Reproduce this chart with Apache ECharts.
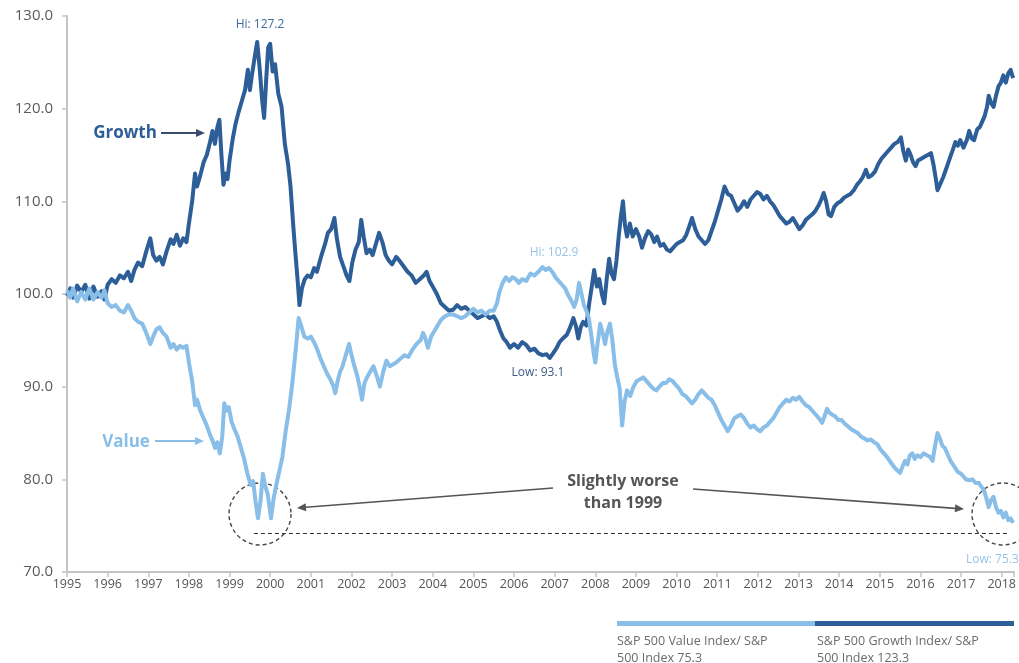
<!DOCTYPE html>
<html><head><meta charset="utf-8">
<script src="https://cdn.jsdelivr.net/npm/echarts@6/dist/echarts.min.js"></script>
<style>html,body{margin:0;padding:0;background:#fff}#c{width:1019px;height:663px}</style>
</head><body><div id="c"></div>
<script>
const yTicks = [70, 80, 90, 100, 110, 120, 130];
const growthX = [1995.00,1995.08,1995.15,1995.25,1995.35,1995.45,1995.55,1995.65,1995.75,1995.85,1995.92,1996.00,1996.10,1996.20,1996.30,1996.40,1996.50,1996.58,1996.66,1996.75,1996.85,1996.95,1997.05,1997.12,1997.20,1997.28,1997.36,1997.45,1997.55,1997.62,1997.70,1997.78,1997.86,1997.94,1998.00,1998.08,1998.15,1998.20,1998.28,1998.36,1998.44,1998.52,1998.58,1998.64,1998.70,1998.75,1998.80,1998.85,1998.90,1998.95,1999.00,1999.08,1999.15,1999.22,1999.30,1999.38,1999.45,1999.50,1999.55,1999.62,1999.68,1999.74,1999.80,1999.85,1999.90,1999.95,2000.00,2000.06,2000.12,2000.20,2000.28,2000.36,2000.44,2000.50,2000.56,2000.62,2000.68,2000.72,2000.78,2000.85,2000.92,2001.00,2001.08,2001.15,2001.25,2001.35,2001.42,2001.50,2001.58,2001.64,2001.72,2001.80,2001.88,2001.95,2002.02,2002.10,2002.18,2002.24,2002.30,2002.37,2002.45,2002.52,2002.60,2002.68,2002.76,2002.84,2002.92,2003.00,2003.10,2003.18,2003.28,2003.38,2003.48,2003.58,2003.68,2003.78,2003.85,2003.92,2004.00,2004.10,2004.20,2004.30,2004.40,2004.50,2004.60,2004.70,2004.80,2004.90,2005.00,2005.10,2005.20,2005.30,2005.40,2005.50,2005.58,2005.66,2005.74,2005.82,2005.90,2006.00,2006.10,2006.20,2006.30,2006.40,2006.50,2006.60,2006.70,2006.80,2006.88,2006.96,2007.05,2007.12,2007.20,2007.30,2007.38,2007.46,2007.52,2007.58,2007.64,2007.70,2007.78,2007.85,2007.92,2007.97,2008.04,2008.10,2008.16,2008.22,2008.28,2008.34,2008.40,2008.46,2008.52,2008.58,2008.63,2008.68,2008.73,2008.78,2008.85,2008.92,2009.00,2009.08,2009.15,2009.22,2009.30,2009.38,2009.45,2009.52,2009.60,2009.68,2009.76,2009.84,2009.92,2010.00,2010.08,2010.16,2010.24,2010.32,2010.38,2010.46,2010.54,2010.62,2010.70,2010.78,2010.86,2010.94,2011.02,2011.10,2011.18,2011.26,2011.34,2011.42,2011.50,2011.58,2011.66,2011.74,2011.82,2011.90,2011.98,2012.06,2012.14,2012.22,2012.30,2012.38,2012.46,2012.54,2012.62,2012.70,2012.78,2012.86,2012.94,2013.02,2013.10,2013.18,2013.26,2013.34,2013.42,2013.50,2013.56,2013.62,2013.68,2013.74,2013.80,2013.88,2013.96,2014.04,2014.12,2014.20,2014.28,2014.36,2014.44,2014.52,2014.58,2014.66,2014.72,2014.80,2014.88,2014.96,2015.04,2015.12,2015.20,2015.28,2015.36,2015.44,2015.52,2015.58,2015.64,2015.70,2015.76,2015.82,2015.88,2015.94,2016.02,2016.10,2016.18,2016.26,2016.32,2016.38,2016.42,2016.48,2016.56,2016.64,2016.72,2016.80,2016.86,2016.92,2016.98,2017.06,2017.14,2017.20,2017.26,2017.32,2017.40,2017.46,2017.52,2017.58,2017.64,2017.68,2017.74,2017.80,2017.86,2017.92,2017.98,2018.04,2018.10,2018.16,2018.22,2018.28];
const growthY = [99.8,100.6,99.6,100.9,100.2,101.0,99.5,100.8,99.7,100.3,99.4,101.0,101.6,101.2,102.0,101.7,102.4,101.4,102.6,103.4,103.0,104.6,106.0,104.2,103.6,104.0,103.2,104.6,105.9,105.4,106.4,105.2,106.0,105.6,107.6,110.0,113.0,111.6,112.8,114.2,115.0,116.4,117.6,116.2,118.0,118.8,115.0,111.8,113.0,112.4,114.4,116.8,118.4,119.6,120.8,122.0,124.2,122.0,123.6,125.6,127.2,124.4,121.0,119.0,123.0,126.6,127.0,124.0,124.8,121.6,120.2,116.2,114.0,111.6,107.8,104.4,101.2,98.8,100.6,101.6,102.0,101.8,102.8,102.4,104.0,105.4,106.6,107.0,108.2,106.0,104.0,103.0,102.0,101.4,103.4,104.8,105.6,108.0,106.2,104.4,104.8,104.2,105.4,106.6,105.6,104.2,103.6,103.2,104.0,103.6,103.0,102.4,102.0,101.2,101.6,102.0,102.4,101.4,100.8,100.0,99.0,98.6,98.2,98.3,98.8,98.4,98.6,98.2,97.8,97.4,97.6,97.8,97.4,97.6,97.0,96.0,95.2,94.8,94.2,94.6,94.2,94.8,94.5,93.9,94.1,93.6,93.4,93.5,93.1,93.6,94.2,94.8,95.2,95.6,96.4,97.4,96.6,95.2,96.4,97.0,96.6,99.0,101.0,102.6,100.8,101.6,100.0,99.0,101.6,103.8,102.2,101.6,103.6,106.4,108.4,110.0,107.4,106.2,107.6,106.2,107.0,106.2,105.0,106.0,106.8,106.4,105.6,106.2,105.2,105.4,104.8,104.6,105.0,105.4,105.6,105.8,106.4,107.4,108.2,107.0,106.2,105.8,105.4,105.8,106.8,107.8,109.0,110.2,111.6,110.8,110.6,109.8,109.0,109.4,110.0,109.4,110.2,110.6,111.0,110.8,110.2,110.6,110.0,109.6,109.0,108.4,108.0,107.6,107.8,108.2,107.6,107.0,107.4,108.0,108.3,108.6,109.0,109.6,110.2,110.9,110.0,108.6,108.4,109.4,109.8,110.0,110.4,110.6,110.8,111.2,111.8,112.2,112.6,113.4,112.6,112.8,113.2,114.0,114.6,115.0,115.4,115.8,116.2,116.4,116.9,115.4,114.4,115.6,115.0,114.2,113.8,114.4,114.6,114.8,115.0,115.2,114.0,112.4,111.2,111.8,112.6,113.6,114.6,115.6,116.4,116.0,116.6,115.8,116.6,117.6,116.8,116.6,117.8,118.0,118.6,119.2,120.2,121.4,120.6,120.2,121.4,122.4,122.8,123.6,122.8,123.8,124.2,123.3];
const valueX = [1995.00,1995.08,1995.15,1995.25,1995.35,1995.45,1995.55,1995.65,1995.75,1995.85,1995.92,1996.00,1996.10,1996.20,1996.30,1996.40,1996.50,1996.58,1996.66,1996.75,1996.85,1996.95,1997.05,1997.12,1997.20,1997.28,1997.36,1997.45,1997.55,1997.62,1997.70,1997.78,1997.86,1997.94,1998.00,1998.08,1998.15,1998.20,1998.28,1998.36,1998.44,1998.52,1998.58,1998.64,1998.70,1998.76,1998.82,1998.87,1998.92,1998.98,1999.05,1999.12,1999.20,1999.28,1999.36,1999.44,1999.52,1999.58,1999.64,1999.70,1999.76,1999.82,1999.88,1999.94,2000.02,2000.08,2000.14,2000.22,2000.30,2000.38,2000.46,2000.54,2000.62,2000.70,2000.76,2000.84,2000.92,2001.00,2001.08,2001.16,2001.24,2001.32,2001.40,2001.48,2001.56,2001.60,2001.66,2001.72,2001.78,2001.86,2001.94,2001.98,2002.06,2002.14,2002.20,2002.26,2002.32,2002.38,2002.46,2002.54,2002.62,2002.70,2002.78,2002.86,2002.94,2003.02,2003.10,2003.20,2003.30,2003.40,2003.50,2003.60,2003.70,2003.76,2003.82,2003.88,2003.96,2004.04,2004.12,2004.20,2004.30,2004.40,2004.50,2004.60,2004.70,2004.80,2004.90,2005.00,2005.10,2005.20,2005.30,2005.40,2005.50,2005.58,2005.64,2005.72,2005.80,2005.88,2005.96,2006.04,2006.12,2006.20,2006.30,2006.40,2006.50,2006.60,2006.70,2006.78,2006.86,2006.94,2007.02,2007.10,2007.18,2007.26,2007.34,2007.42,2007.48,2007.54,2007.60,2007.66,2007.72,2007.78,2007.84,2007.90,2007.96,2008.00,2008.06,2008.12,2008.18,2008.24,2008.30,2008.36,2008.42,2008.48,2008.54,2008.60,2008.66,2008.72,2008.78,2008.86,2008.94,2009.02,2009.10,2009.18,2009.26,2009.34,2009.42,2009.50,2009.58,2009.66,2009.74,2009.82,2009.90,2009.98,2010.06,2010.14,2010.22,2010.30,2010.38,2010.46,2010.54,2010.62,2010.70,2010.78,2010.86,2010.94,2011.02,2011.10,2011.18,2011.26,2011.34,2011.42,2011.50,2011.58,2011.66,2011.74,2011.82,2011.90,2011.98,2012.06,2012.14,2012.22,2012.30,2012.38,2012.46,2012.54,2012.62,2012.70,2012.78,2012.86,2012.94,2013.02,2013.10,2013.18,2013.26,2013.34,2013.42,2013.50,2013.58,2013.64,2013.70,2013.76,2013.82,2013.90,2013.98,2014.06,2014.14,2014.22,2014.30,2014.38,2014.46,2014.54,2014.62,2014.70,2014.78,2014.86,2014.94,2015.02,2015.10,2015.18,2015.26,2015.34,2015.42,2015.50,2015.56,2015.62,2015.68,2015.74,2015.80,2015.86,2015.92,2016.00,2016.08,2016.16,2016.24,2016.30,2016.36,2016.42,2016.48,2016.54,2016.60,2016.68,2016.74,2016.80,2016.86,2016.92,2017.00,2017.06,2017.12,2017.20,2017.28,2017.36,2017.44,2017.50,2017.56,2017.62,2017.68,2017.74,2017.80,2017.86,2017.92,2017.98,2018.04,2018.10,2018.16,2018.22,2018.28];
const valueY = [100.4,99.6,100.6,99.2,100.2,99.4,100.6,99.4,100.2,99.6,100.4,99.0,98.6,98.8,98.2,98.0,98.8,98.2,97.4,97.0,96.8,95.8,94.6,95.4,96.2,96.4,95.8,95.4,94.2,94.6,94.0,94.4,94.2,94.4,92.6,90.6,88.0,88.6,87.4,86.6,85.8,84.8,84.2,83.4,84.0,82.8,84.6,88.2,87.4,87.8,86.2,85.4,84.6,83.4,82.2,80.6,79.4,79.8,77.6,75.8,77.6,80.6,79.2,78.4,75.8,77.8,79.2,80.8,82.4,85.2,87.4,90.2,93.6,97.4,96.6,95.4,95.2,95.4,94.8,94.0,93.0,92.2,91.4,90.8,90.0,89.3,90.6,91.6,92.2,93.4,94.6,93.8,92.4,91.2,90.0,88.6,90.4,91.0,91.6,92.2,91.2,90.0,91.6,92.8,92.2,92.4,92.6,93.0,93.4,93.2,94.0,94.6,95.0,95.8,95.2,94.2,95.4,96.0,96.6,97.2,97.6,97.8,97.8,97.6,97.4,97.6,98.0,98.4,98.0,98.2,97.8,98.2,98.2,99.0,100.2,101.2,101.8,101.4,101.8,101.6,101.2,101.6,101.4,102.2,102.0,102.4,102.9,102.6,102.8,102.4,101.8,101.4,101.0,100.6,99.8,99.2,98.6,99.4,101.2,100.0,98.8,98.2,97.4,95.6,93.6,92.6,94.8,96.8,95.8,94.6,96.0,96.8,95.0,92.4,91.0,89.8,85.8,88.4,89.6,89.0,90.0,90.6,90.8,91.0,90.6,90.2,89.8,89.6,90.0,90.4,90.4,90.8,90.6,90.2,89.8,89.2,89.0,88.6,88.2,88.6,89.2,89.6,89.2,88.8,88.6,88.0,87.2,86.4,85.8,85.2,85.8,86.6,86.8,87.0,86.6,86.0,85.6,85.8,85.4,85.2,85.6,85.8,86.2,86.6,87.2,87.8,88.2,88.6,88.4,88.8,88.6,88.9,88.4,88.0,87.8,87.4,87.0,86.6,86.1,86.8,87.6,87.2,87.0,86.8,86.4,86.4,86.0,85.7,85.4,85.2,85.0,84.6,84.4,84.2,84.3,84.0,83.8,83.2,82.8,82.4,81.9,81.4,81.0,80.7,81.4,82.0,81.6,82.6,82.8,82.2,82.6,82.4,82.8,82.6,82.4,82.0,83.6,85.0,84.4,83.6,83.4,82.6,82.0,81.6,81.2,80.8,80.6,80.3,80.0,79.9,80.0,79.6,79.6,79.2,78.9,78.0,77.0,77.8,78.1,77.0,76.4,76.6,75.9,76.4,75.6,75.8,75.3];
const refLevel = 74.15;
const refFrom = 1999.6, refTo = 2018.17;
const legendLabels = ['S&P 500 Value Index/ S&P\n500 Index 75.3', 'S&P 500 Growth Index/ S&P\n500 Index 123.3'];

const DARK = '#2d5e97', LIGHT = '#88bee7', GRAY = '#555555';
const FONT = '"Open Sans", sans-serif';
const zip = (xs, ys) => xs.map((x, i) => [x, ys[i]]);

function arrow(x1, y1, x2, y2, color, w) {
  const a = Math.atan2(y2 - y1, x2 - x1), L = 9, H = 4;
  const bx = x2 - L * Math.cos(a), by = y2 - L * Math.sin(a);
  return [
    {type: 'line', shape: {x1, y1, x2: bx, y2: by}, style: {stroke: color, lineWidth: w}, silent: true},
    {type: 'polygon', shape: {points: [[x2, y2], [bx - H * Math.sin(a), by + H * Math.cos(a)], [bx + H * Math.sin(a), by - H * Math.cos(a)]]}, style: {fill: color}, silent: true}
  ];
}
function txt(x, y, s, color, size, weight, align) {
  return {type: 'text', x, y, style: {text: s, fill: color, font: (weight || 'normal') + ' ' + size + 'px ' + FONT, textAlign: align || 'center', textVerticalAlign: 'middle'}, silent: true};
}

const chart = echarts.init(document.getElementById('c'));
const graphics = [].concat(
  txt(260, 25, 'Hi: 127.2', '#3f6a9e', 12),
  txt(125, 133, 'Growth', DARK, 17, 'bold'),
  arrow(161, 133, 205, 133, '#3b4d6e', 1.8),
  txt(126, 442, 'Value', LIGHT, 17, 'bold'),
  arrow(155, 441, 204, 441, LIGHT, 1.8),
  txt(554, 253, 'Hi: 102.9', '#95c4ea', 12),
  txt(538, 373, 'Low: 93.1', '#3b5a88', 12),
  txt(966, 560, 'Low: 75.3', '#95c4ea', 12, 'normal', 'left'),
  txt(623, 481, 'Slightly worse', GRAY, 16, 'bold'),
  txt(623, 503, 'than 1999', GRAY, 16, 'bold'),
  arrow(553, 488, 297, 508, GRAY, 1.6),
  arrow(693, 489, 964, 509, GRAY, 1.6),
  {type: 'circle', shape: {cx: 260, cy: 514, r: 31}, style: {fill: 'none', stroke: '#444', lineWidth: 1.4, lineDash: [4, 3]}, silent: true},
  {type: 'circle', shape: {cx: 1003, cy: 514, r: 31}, style: {fill: 'none', stroke: '#444', lineWidth: 1.4, lineDash: [4, 3]}, silent: true},
  {type: 'rect', shape: {x: 617, y: 621, width: 198, height: 5}, style: {fill: LIGHT}, silent: true},
  {type: 'rect', shape: {x: 815, y: 621, width: 199, height: 5}, style: {fill: DARK}, silent: true},
  {type: 'text', x: 617, y: 633, style: {text: legendLabels[0], fill: '#6b6b6b', font: '12.5px ' + FONT, lineHeight: 17, textAlign: 'left', textVerticalAlign: 'top'}, silent: true},
  {type: 'text', x: 817, y: 633, style: {text: legendLabels[1], fill: '#6b6b6b', font: '12.5px ' + FONT, lineHeight: 17, textAlign: 'left', textVerticalAlign: 'top'}, silent: true}
);

chart.setOption({
  animation: false,
  backgroundColor: '#fff',
  grid: {left: 67, right: 4, top: 16, bottom: 91, containLabel: false},
  xAxis: {
    type: 'value', min: 1995, max: 2018.3, interval: 1,
    axisLine: {lineStyle: {color: '#c4c4c4', width: 2}},
    axisTick: {show: true, length: 5, lineStyle: {color: '#c4c4c4', width: 1.5}},
    splitLine: {show: false},
    axisLabel: {color: '#555', fontSize: 12.5, fontFamily: FONT, margin: 6,
      formatter: v => Math.abs(v - Math.round(v)) < 1e-6 ? String(Math.round(v)) : ''}
  },
  yAxis: {
    type: 'value', min: yTicks[0], max: yTicks[yTicks.length - 1], interval: 10,
    axisLine: {show: true, lineStyle: {color: '#c4c4c4', width: 2}},
    axisTick: {show: true, length: 5, lineStyle: {color: '#c4c4c4', width: 1.5}},
    splitLine: {show: false},
    axisLabel: {color: '#5a5a5a', fontSize: 15, fontFamily: FONT, margin: 14, formatter: v => v.toFixed(1)}
  },
  series: [
    {name: 'Growth', type: 'line', data: zip(growthX, growthY), showSymbol: false, symbol: 'none',
      lineStyle: {color: DARK, width: 4, join: 'round'}, itemStyle: {color: DARK}, z: 2},
    {name: 'Value', type: 'line', data: zip(valueX, valueY), showSymbol: false, symbol: 'none',
      lineStyle: {color: LIGHT, width: 4, join: 'round'}, itemStyle: {color: LIGHT}, z: 3,
      markLine: {silent: true, symbol: ['none', 'none'], label: {show: false},
        lineStyle: {color: '#333', type: [4, 3], width: 1.2},
        data: [[{coord: [refFrom, refLevel]}, {coord: [refTo, refLevel]}]]}}
  ],
  graphic: graphics
});
</script></body></html>
